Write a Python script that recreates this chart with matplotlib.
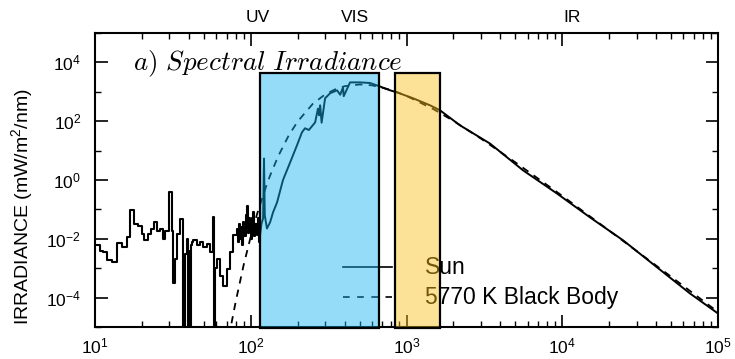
import matplotlib.pyplot as plt
from matplotlib.patches import Rectangle
from matplotlib.ticker import LogLocator, NullFormatter
import numpy as np

plt.rcParams['font.family'] = ['Liberation Sans', 'DejaVu Sans']
plt.rcParams['mathtext.fontset'] = 'custom'
plt.rcParams['mathtext.rm'] = 'Liberation Sans'
plt.rcParams['mathtext.it'] = 'Liberation Sans:italic'

# solar spectrum, EUV part (step edges in nm, log10 irradiance in mW/m2/nm)
euv_wl = [10.0, 10.8, 11.2, 12.0, 12.8, 13.9, 14.8, 16.0, 16.8, 17.9, 18.8, 19.9,
          20.7, 22.0, 22.9, 24.0, 24.9, 26.1, 27.5, 28.2, 30.0, 31.1, 31.8, 32.6,
          33.4, 35.1, 36.9, 37.8, 38.8, 39.7, 40.0, 40.3, 40.7, 41.0, 41.3, 41.7,
          42.8, 44.9, 47.2, 49.6, 52.1, 54.7, 56.9, 58.1, 58.5, 60.4, 63.5, 66.7,
          70.0, 73.6, 77.3, 81.2, 82.5, 83.5, 85.3, 86.5, 88.0, 89.6, 91.0, 92.5,
          94.1, 95.5, 97.2, 98.9, 100.5, 102.0, 103.9, 105.5, 107.0, 109.1, 111.0,
          113.0, 114.6]
euv_log = [-2.2, -2.4, -2.45, -2.73, -2.79, -2.15, -2.28, -1.94, -1.03, -1.51, -1.55, -1.83,
           -2.05, -1.83, -1.66, -1.43, -1.72, -1.65, -1.99, -1.75, -0.42, -1.75, -3.52, -2.67,
           -1.82, -1.31, -7.0, -2.5, -1.99, -7.0, -2.4, -7.0, -3.0, -7.0, -2.2, -2.1,
           -2.05, -2.22, -2.11, -2.28, -2.17, -2.46, -1.27, -7.0, -3.0, -2.67, -3.25, -3.59,
           -3.02, -2.46, -1.87, -1.65, -2.1, -1.5, -1.99, -1.6, -2.2, -1.42, -1.9, -1.2,
           -0.87, -1.8, -1.3, -1.55, -2.0, -1.3, -1.08, -1.9, -1.5, -1.87, -1.3,
           -2.1, -1.9]

# solar spectrum, UV to IR
sun_wl = [114.6, 117, 120, 121.6, 123, 127, 133, 139, 147.5, 161, 179, 198, 213, 223,
          236, 259, 270, 275, 279, 285, 300, 323, 358, 375, 391, 395, 434, 502, 583,
          676, 784, 869, 1101, 1416, 1641, 2204, 3434, 5597, 9250, 15060, 24550,
          40600, 66100, 100000]
sun_log = [-1.9, -1.5, -1.3, 0.73, -1.2, -1.65, -1.44, -1.1, -0.76, 0.0, 0.6, 1.18, 1.62, 1.76,
           1.70, 1.96, 2.43, 2.2, 2.54, 1.95, 2.78, 2.95, 3.05, 2.9, 3.15, 2.85, 3.32, 3.32, 3.30,
           3.18, 3.05, 2.98, 2.78, 2.54, 2.37, 1.86, 1.24, 0.33, -0.46, -1.27, -2.05,
           -2.97, -3.86, -4.54]

# 5770 K black body
bb_wl = [70, 75, 80, 90, 100, 110, 125, 133, 150, 175, 200, 250, 300, 350, 400, 500, 600,
         800, 1000, 1500, 2000, 3000, 5000, 10000, 20000, 50000, 100000]
bb_log = [-5.78, -4.9, -4.14, -2.89, -1.92, -1.14, -0.24, 0.15, 0.81, 1.51, 1.99, 2.59, 2.91,
          3.09, 3.19, 3.25, 3.22, 3.06, 2.86, 2.40, 2.01, 1.41, 0.60, -0.54, -1.72, -3.29, -4.49]

# highlighted bands (nm) and band labels
blue_band = (114.6, 670)
orange_band = (843, 1641)
band_top = 4200
band_names = ['UV', 'VIS', 'IR']
band_name_x = [111, 467, 11560]

fig = plt.figure(figsize=(7.35, 3.59), dpi=100)
ax = fig.add_axes([0.1293, 0.0891, 0.8476, 0.819])

ax.step(euv_wl, 10 ** np.array(euv_log), where='post', color='black', lw=1.5, zorder=2)
ax.plot(sun_wl, 10 ** np.array(sun_log), color='black', lw=1.4, zorder=2)
ax.plot(bb_wl, 10 ** np.array(bb_log), color='black', lw=1.3, dashes=(4, 3.5), zorder=2)

ax.set_xscale('log')
ax.set_yscale('log')
ax.set_xlim(10, 1e5)
ax.set_ylim(1e-5, 1e5)

for (x0, x1), fc in [(blue_band, (0.08, 0.70, 0.95, 0.45)),
                     (orange_band, (0.98, 0.75, 0.10, 0.45))]:
    ax.add_patch(Rectangle((x0, 9e-6), x1 - x0, band_top - 9e-6, facecolor=fc,
                           edgecolor='black', lw=1.6, zorder=4, clip_on=False))

# legend drawn by hand
ax.plot([0.398, 0.477], [0.204, 0.204], transform=ax.transAxes, color='black', lw=1.2, zorder=2)
ax.plot([0.398, 0.477], [0.102, 0.102], transform=ax.transAxes, color='black', lw=1.2,
        dashes=(4, 4.5), zorder=2)
ax.text(0.53, 0.204, 'Sun', transform=ax.transAxes, va='center', fontsize=16.5, zorder=3)
ax.text(0.53, 0.102, '5770 K Black Body', transform=ax.transAxes, va='center', fontsize=16.5,
        zorder=3)

ax.text(0.061, 0.874, r'$\mathit{a)\ Spectral\ Irradiance}$', transform=ax.transAxes,
        fontsize=19.5, math_fontfamily='cm', va='baseline', zorder=3)

for name, xb in zip(band_names, band_name_x):
    ax.text(xb, 1.054, name, transform=ax.get_xaxis_transform(), ha='center', va='center',
            fontsize=12.5)

ax.set_xticks([10, 100, 1000, 1e4, 1e5])
ax.set_xticklabels([r'$10^{1}$', r'$10^{2}$', r'$10^{3}$', r'$10^{4}$', r'$10^{5}$'])
ax.xaxis.set_minor_locator(LogLocator(base=10, subs=np.arange(2, 10)))
ax.xaxis.set_minor_formatter(NullFormatter())
ax.set_yticks([1e-4, 1e-2, 1, 1e2, 1e4])
ax.set_yticklabels([r'$10^{-4}$', r'$10^{-2}$', r'$10^{0}$', r'$10^{2}$', r'$10^{4}$'])
ax.yaxis.set_minor_locator(LogLocator(base=10, subs=[1.0], numticks=20))
ax.yaxis.set_minor_formatter(NullFormatter())
ax.tick_params(which='both', direction='in', top=True, right=True, labelsize=12.5)
ax.tick_params(which='major', length=9, width=1.2)
ax.tick_params(which='minor', length=4.5, width=1.0)
ax.tick_params(axis='y', which='major', pad=10)
ax.tick_params(axis='x', which='major', pad=7)
for s in ax.spines.values():
    s.set_linewidth(1.5)

fig.text(0.030, 0.423, r'IRRADIANCE (mW/m$^2$/nm)', rotation=90, ha='center', va='center',
         fontsize=14)

fig.savefig('out.png', dpi=100)
